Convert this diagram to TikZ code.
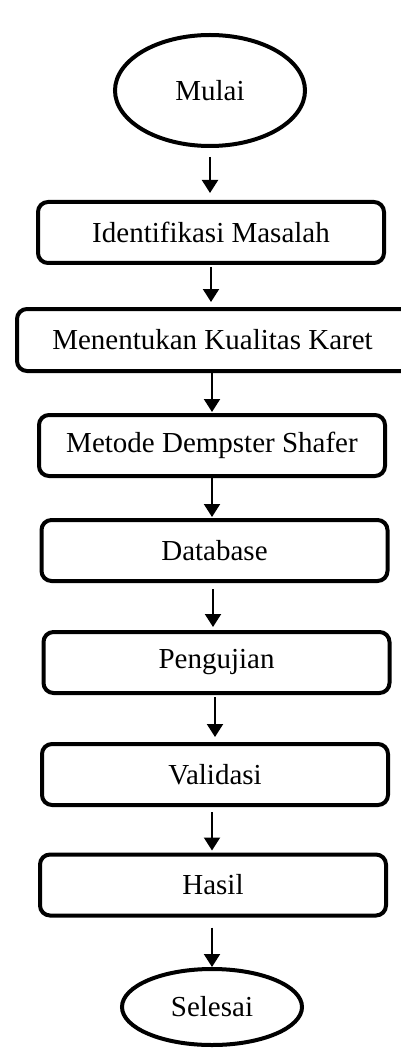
\documentclass[tikz,border=0pt]{standalone}
\usepackage{fontspec}
\setmainfont{Liberation Serif}
\usetikzlibrary{arrows.meta,shapes.geometric}
\begin{document}
\begin{tikzpicture}[x=1pt,y=-1pt,
  txt/.style={font=\fontsize{29}{34}\selectfont},
  box/.style={txt, draw, line width=4pt, rounded corners=10pt, minimum width=346pt, minimum height=61pt, inner sep=0pt},
  term/.style={txt, draw, ellipse, line width=4pt, inner sep=0pt},
  arr/.style={-{Triangle[length=13pt,width=16pt]}, line width=2pt}]
\useasboundingbox (0,0) rectangle (400,1048);
\node[term, minimum width=190pt, minimum height=111pt] (mulai) at (210,90.5) {Mulai};
\node[box] (idm) at (211,232.5) {Identifikasi Masalah};
\node[box, minimum width=396pt, minimum height=62pt] (kk) at (215,340) {\hspace*{-5pt}Menentukan Kualitas Karet};
\node[box] (mds) at (212,445.5) {Metode Dempster Shafer};
\node[box] (db) at (214.5,550.5) {Database};
\node[box] (pg) at (216.5,662.5) {Pengujian};
\node[box] (val) at (215,774.5) {Validasi};
\node[box] (has) at (213,885) {Hasil};
\node[term, minimum width=180pt, minimum height=76pt] (sel) at (212,1007) {Selesai};
\draw[arr, shorten <=9pt, shorten >=7pt] (mulai.south) -- (mulai.south |- idm.north);
\draw[arr, shorten <=2pt, shorten >=5pt] (idm.south) -- (idm.south |- kk.north);
\draw[arr, shorten >=1pt] ([xshift=-3pt]kk.south) -- ([xshift=-3pt]kk.south |- mds.north);
\draw[arr, shorten >=1pt] (mds.south) -- (mds.south |- db.north);
\draw[arr, shorten <=6pt, shorten >=3pt] ([xshift=-1.5pt]db.south) -- ([xshift=-1.5pt]db.south |- pg.north);
\draw[arr, shorten <=2pt, shorten >=5pt] ([xshift=-1.5pt]pg.south) -- ([xshift=-1.5pt]pg.south |- val.north);
\draw[arr, shorten <=5pt, shorten >=2pt] ([xshift=-3pt]val.south) -- ([xshift=-3pt]val.south |- has.north);
\draw[arr, shorten <=10pt] ([xshift=-1pt]has.south) -- ([xshift=-1pt]has.south |- sel.north);
\end{tikzpicture}
\end{document}
